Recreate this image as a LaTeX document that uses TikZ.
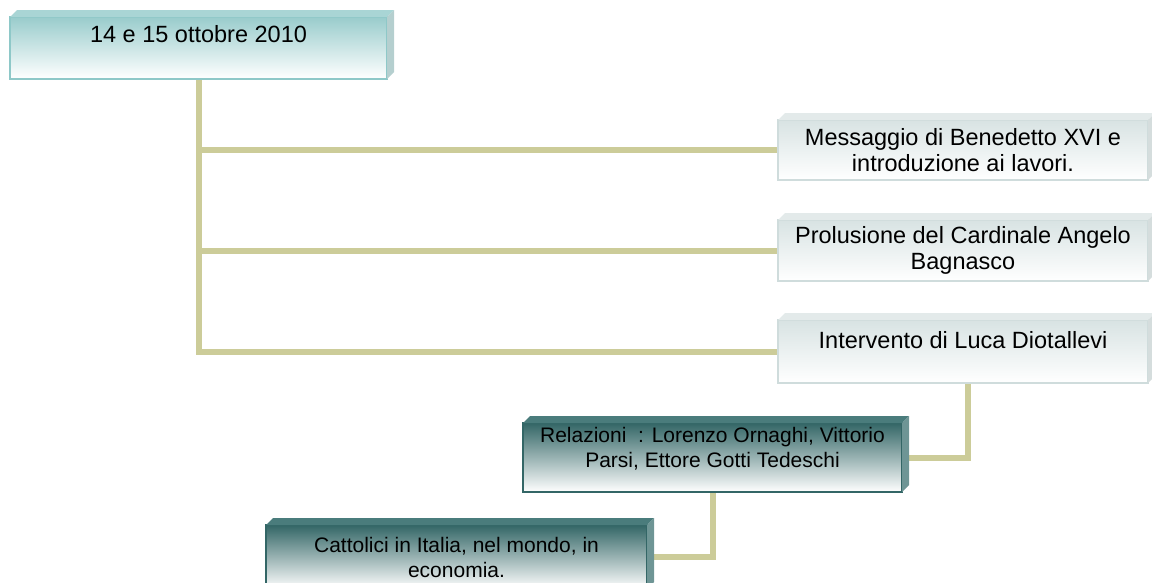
\documentclass[tikz,border=0pt]{standalone}
\usepackage{fontspec}
\setmainfont{Liberation Sans}
\usetikzlibrary{backgrounds}

\definecolor{stem}{HTML}{CCCC99}
\definecolor{tealL}{HTML}{99CCCC}
\definecolor{tealB}{HTML}{8EC8C8}
\definecolor{tealT}{HTML}{A9D5D5}
\definecolor{tealS}{HTML}{B5CFCF}
\definecolor{greyL}{HTML}{D8E3E3}
\definecolor{greyB}{HTML}{CFDCDC}
\definecolor{greyT}{HTML}{E3EAEA}
\definecolor{greyS}{HTML}{D5DDDD}
\definecolor{tealD}{HTML}{336666}
\definecolor{darkT}{HTML}{4A7C7C}
\definecolor{darkS}{HTML}{6E9595}

\begin{document}
\begin{tikzpicture}[
  x=1pt, y=-1pt,
  box/.style = {draw, line width=1.2pt, outer sep=0pt, inner sep=0pt, align=center},
  bigbox/.style = {box, font=\fontsize{23.5pt}{26pt}\selectfont},
  datebox/.style = {bigbox, draw=tealB, top color=tealL, middle color=tealL!55!white,
                    bottom color=white},
  lightbox/.style = {bigbox, draw=greyB, top color=greyL, bottom color=white,
                     minimum width=370pt},
  darkbox/.style = {box, draw=tealD, top color=tealD, middle color=tealD!35!white,
                    bottom color=white, font=\fontsize{21pt}{25pt}\selectfont},
  topline/.style = {text depth=#1},
  link/.style = {draw=stem, line width=6pt}
]

  \useasboundingbox (0,0) rectangle (1152,582);

  \node[datebox, topline=29pt, minimum width=377pt, minimum height=62pt] (date) at (198.5,48)
    {14 e 15 ottobre 2010};

  \node[lightbox, minimum height=60pt] (msg) at (963,150)
    {Messaggio di Benedetto XVI e\\introduzione ai lavori.};
  \node[lightbox, minimum height=61pt] (pro) at (963,250.5)
    {Prolusione del Cardinale Angelo\\Bagnasco};
  \node[lightbox, topline=23pt, minimum height=63pt] (int) at (963,351.5)
    {Intervento di Luca Diotallevi};

  \node[darkbox, topline=20pt, minimum width=379pt, minimum height=69pt] (rel) at (712.5,457.5)
    {Relazioni\ \ : Lorenzo Ornaghi, Vittorio\\Parsi, Ettore Gotti Tedeschi};
  \node[darkbox, minimum width=381pt, minimum height=64pt] (cat) at (456.5,557)
    {Cattolici in Italia, nel mondo, in\\economia.};

  % 3d edges
  \foreach \n/\t/\s in {date/tealT/tealS, msg/greyT/greyS, pro/greyT/greyS,
                        int/greyT/greyS, rel/darkT/darkS, cat/darkT/darkS} {
    \fill[\t] (\n.north west) -- ++(7,-7) -- ([shift={(7,-7)}]\n.north east)
      -- (\n.north east) -- cycle;
    \fill[\s] (\n.north east) -- ([shift={(7,-7)}]\n.north east)
      -- ([shift={(7,-7)}]\n.south east) -- (\n.south east) -- cycle;
  }

  \begin{scope}[on background layer]
    \draw[link] (date.south) |- (msg.west);
    \draw[link] (date.south) |- (pro.west);
    \draw[link] (date.south) |- (int.west);
    \draw[link] ([xshift=5pt]int.south) |- (rel.east);
    \draw[link] (rel.south) |- (cat.east);
  \end{scope}

\end{tikzpicture}
\end{document}
